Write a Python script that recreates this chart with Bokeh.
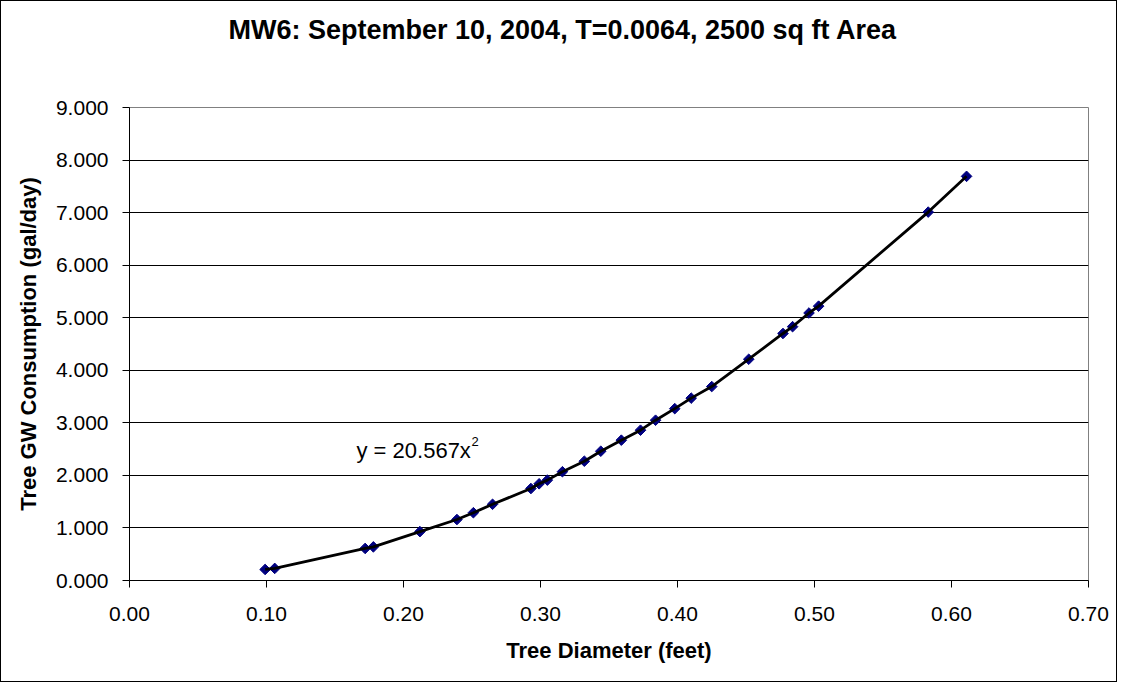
from bokeh.plotting import figure
from bokeh.models import FixedTicker, NumeralTickFormatter, Range1d, Label, Title
from bokeh.embed import file_html
from bokeh.resources import INLINE

# ---- data -------------------------------------------------------------
title_text = "MW6: September 10, 2004, T=0.0064,  2500 sq ft Area"
x_label = "Tree Diameter (feet)"
y_label = "Tree GW Consumption (gal/day)"
trend_text = "y = 20.567x"
trend_sup = "2"

x_ticks = [0.0, 0.1, 0.2, 0.3, 0.4, 0.5, 0.6, 0.7]
y_ticks = [0, 1, 2, 3, 4, 5, 6, 7, 8, 9]

diameter = [0.099, 0.106, 0.172, 0.178, 0.212, 0.239, 0.251, 0.265, 0.293,
            0.299, 0.305, 0.316, 0.332, 0.344, 0.359, 0.373, 0.384, 0.398,
            0.410, 0.425, 0.452, 0.477, 0.484, 0.496, 0.503, 0.583, 0.611]
consumption = [0.21, 0.23, 0.61, 0.64, 0.93, 1.16, 1.29, 1.45, 1.75,
               1.84, 1.91, 2.07, 2.27, 2.46, 2.67, 2.86, 3.05, 3.27,
               3.47, 3.69, 4.21, 4.70, 4.83, 5.09, 5.22, 7.01, 7.69]

FONT = "Liberation Sans"

p = figure(width=1117, height=682, output_backend="svg", toolbar_location=None,
           x_range=Range1d(0, 0.7), y_range=Range1d(0, 9),
           min_border_left=128, min_border_right=30,
           min_border_top=106, min_border_bottom=103)
p.styles = {"border": "1px solid black"}

# title: a thin spacer panel next to the frame, then the real title above it
spacer = Title(text=" ", text_font_size="1px", standoff=55)
p.add_layout(spacer, "above")
main_title = Title(text=title_text, text_font=FONT, text_font_size="27px",
                   text_font_style="bold", text_color="black",
                   align="left", offset=99, standoff=10)
p.add_layout(main_title, "above")

# frame
p.outline_line_color = "#808080"
p.outline_line_width = 1
p.background_fill_color = "white"
p.border_fill_color = "white"

# grids
p.xgrid.visible = False
p.ygrid.grid_line_color = "black"
p.ygrid.grid_line_width = 1
p.ygrid.ticker = FixedTicker(ticks=y_ticks)

# axes
p.xaxis.ticker = FixedTicker(ticks=x_ticks)
p.yaxis.ticker = FixedTicker(ticks=y_ticks)
p.xaxis.formatter = NumeralTickFormatter(format="0.00")
p.yaxis.formatter = NumeralTickFormatter(format="0.000")
for ax in (p.xaxis[0], p.yaxis[0]):
    ax.axis_line_color = "black"
    ax.axis_line_width = 1
    ax.major_tick_line_color = "black"
    ax.major_tick_in = 0
    ax.major_tick_out = 7
    ax.minor_tick_line_color = None
    ax.major_label_text_font = FONT
    ax.major_label_text_font_size = "21px"
    ax.major_label_text_color = "black"
    ax.axis_label_text_font = FONT
    ax.axis_label_text_font_size = "22px"
    ax.axis_label_text_font_style = "bold"
    ax.axis_label_text_color = "black"

p.xaxis.axis_label = x_label
p.yaxis.axis_label = y_label
p.xaxis.major_label_standoff = 19
p.yaxis.major_label_standoff = 14
p.xaxis.axis_label_standoff = 14
p.yaxis.axis_label_standoff = 12

# data
p.scatter(diameter, consumption, marker="square", size=7.5, angle=0.785398,
          fill_color="#000080", line_color="#000080", line_width=1)
p.line(diameter, consumption, line_color="black", line_width=2.8)

# trendline equation
p.add_layout(Label(x=0.1657, y=2.481, text=trend_text, text_font=FONT,
                   text_font_size="22px", text_color="black",
                   text_baseline="alphabetic"))
p.add_layout(Label(x=0.1657, y=2.481, x_offset=115, y_offset=8.5,
                   text=trend_sup, text_font=FONT, text_font_size="13px",
                   text_color="black", text_baseline="alphabetic"))

open("out.html", "w").write(file_html(p, INLINE))
